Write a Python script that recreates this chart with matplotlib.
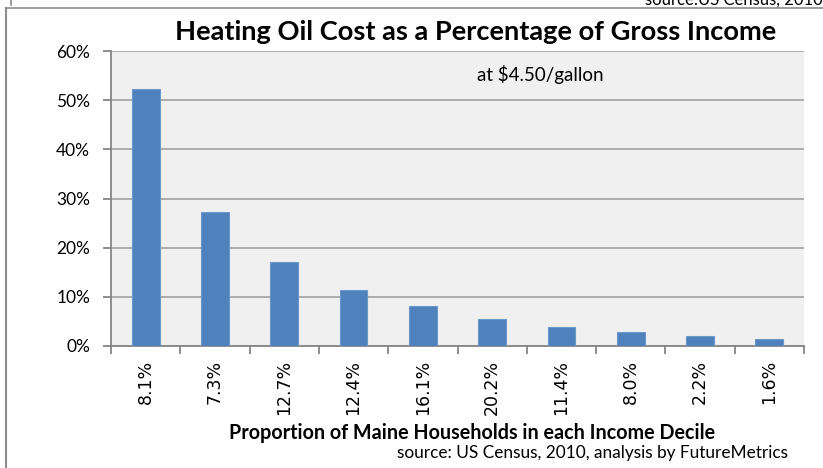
import numpy as np
import matplotlib.pyplot as plt
from matplotlib.lines import Line2D

plt.rcParams['font.family'] = ['Lato', 'DejaVu Sans']

# share of Maine households in each income decile (x tick labels)
deciles = ["8.1%", "7.3%", "12.7%", "12.4%", "16.1%", "20.2%", "11.4%", "8.0%", "2.2%", "1.6%"]
# heating oil cost as % of gross income
cost_pct = [52.2, 27.2, 17.0, 11.4, 8.1, 5.5, 3.9, 2.8, 2.0, 1.4]
yticks = [0, 10, 20, 30, 40, 50, 60]

fig = plt.figure(figsize=(8.23, 4.68), dpi=100)
ax = fig.add_axes([111/823, 1 - 346/468, (804 - 111)/823, (346 - 51)/468])

x = np.arange(len(deciles))
ax.set_facecolor('#f0f0f0')
ax.bar(x, cost_pct, width=0.4, color='#4f81bd', edgecolor='#6c97cb', linewidth=0.8, zorder=3)

ax.set_xlim(-0.5, len(deciles) - 0.5)
ax.set_ylim(0, 60)
ax.set_yticks(yticks)
ax.set_yticklabels([f"{v}%" for v in yticks], fontsize=12.5)
ax.yaxis.grid(True, color='#a6a6a6', linewidth=1.3, zorder=1)
ax.tick_params(axis='y', length=6, color='#868686', width=1.3, pad=9)

ax.set_xticks(x)
ax.set_xticklabels(deciles, rotation=90, fontsize=12.5, family=['DejaVu Sans'])
ax.set_xticks(np.arange(-0.5, len(deciles)), minor=True)
ax.tick_params(axis='x', which='major', length=0, pad=10)
ax.tick_params(axis='x', which='minor', length=6, color='#868686', width=1.3)

for s in ['top', 'right']:
    ax.spines[s].set_visible(False)
for s in ['left', 'bottom']:
    ax.spines[s].set_color('#868686')
    ax.spines[s].set_linewidth(1.3)

fig.text(476/823, 1 - 32/468, "Heating Oil Cost as a Percentage of Gross Income",
         ha='center', va='center', fontsize=19.6, fontweight='bold')
fig.text(540/823, 1 - 75/468, "at $4.50/gallon", ha='center', va='center', fontsize=13.5)
fig.text(472/823, 1 - 433/468, "Proportion of Maine Households in each Income Decile",
         ha='center', va='center', fontsize=14.2, fontweight='bold')
fig.text(788/823, 1 - 453/468, "source: US Census, 2010, analysis by FutureMetrics",
         ha='right', va='center', fontsize=12.4)
fig.text(823/823, 1 - 0/468, "source:US Census, 2010", ha='right', va='center', fontsize=12)

# outer chart frame
fig.add_artist(Line2D([6/823, 1], [1 - 8/468, 1 - 8/468], color='#8c8c8c', lw=1.2))
fig.add_artist(Line2D([6/823, 6/823], [0, 1 - 8/468], color='#8c8c8c', lw=1.5))
fig.add_artist(Line2D([11/823, 11/823], [1 - 5/468, 1], color='#8c8c8c', lw=1.2))

fig.savefig("out.png", dpi=100)
